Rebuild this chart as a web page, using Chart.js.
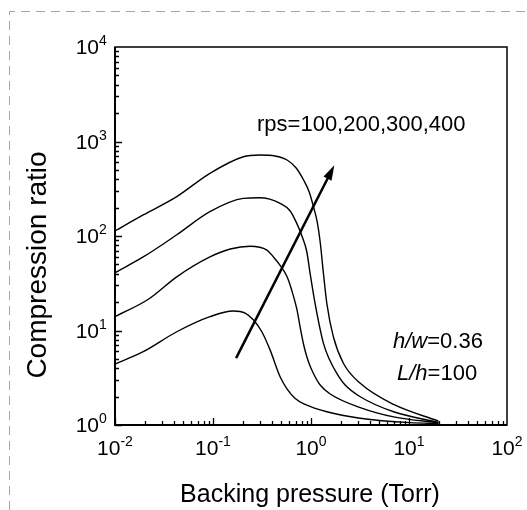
<!DOCTYPE html>
<html>

<head>
    <title>Compression ratio vs backing pressure</title>
    <script src="https://cdn.jsdelivr.net/npm/chart.js"></script>
    <style>
        html, body { margin: 0; padding: 0; background: #fff; }
    </style>
</head>

<body>
    <canvas id="ratioChart" width="527" height="510"></canvas>

    <script>
        // curves, one per rotor speed
        const pressure100 = [0.01, 0.0194, 0.0427, 0.093, 0.161, 0.213, 0.259, 0.315, 0.383, 0.484, 0.571, 0.69, 0.872, 1.45, 3.18, 10.3, 20];
        const ratio100 = [4.42, 5.97, 9.7, 14.0, 16.1, 15.3, 12.9, 9.7, 6.2, 3.24, 2.4, 1.91, 1.65, 1.38, 1.18, 1.06, 1.04];

        const pressure200 = [0.01, 0.0219, 0.0427, 0.093, 0.15, 0.239, 0.355, 0.414, 0.484, 0.57, 0.635, 0.716, 0.785, 0.852, 0.936, 1.053, 1.24, 1.57, 3.18, 6.97, 20];
        const ratio200 = [14.0, 21.4, 37, 60, 72.8, 78, 71, 60, 49, 37, 26.8, 16.9, 10.1, 6.69, 4.76, 3.55, 2.65, 2.13, 1.53, 1.22, 1.055];

        const pressure300 = [0.01, 0.0194, 0.0427, 0.093, 0.204, 0.30, 0.484, 0.613, 0.716, 0.812, 0.907, 0.98, 1.10, 1.34, 1.535, 1.84, 2.23, 3.18, 6.97, 20];
        const ratio300 = [40.9, 60, 103, 181, 250, 254, 222, 184, 136, 98.8, 67.7, 40, 19.4, 7.3, 4.99, 3.5, 2.65, 1.99, 1.38, 1.065];

        const pressure400 = [0.01, 0.0194, 0.0427, 0.093, 0.204, 0.30, 0.43, 0.57, 0.706, 0.84, 0.959, 1.06, 1.157, 1.24, 1.34, 1.45, 1.69, 2.14, 3.18, 6.97, 20];
        const ratio400 = [113, 167, 261, 461, 690, 720, 703, 637, 524, 391, 292, 204, 141, 87, 40, 19.4, 8.6, 4.5, 2.76, 1.65, 1.1];

        // decade tick exponents
        const xExponents = [-2, -1, 0, 1, 2];
        const yExponents = [0, 1, 2, 3, 4];

        // arrow across the curves (data coords: start, tip)
        const arrowFrom = { x: 0.172, y: 5.1 };
        const arrowTo = { x: 1.73, y: 560 };

        const FONT = '"Liberation Sans", Arial, sans-serif';

        function toPoints(xs, ys) {
            return xs.map((x, i) => ({ x: x, y: ys[i] }));
        }

        function curve(xs, ys) {
            return {
                data: toPoints(xs, ys),
                showLine: true,
                borderColor: '#000',
                borderWidth: 1.4,
                pointRadius: 0,
                cubicInterpolationMode: 'monotone',
                fill: false
            };
        }

        // "10" with a raised exponent
        function powWidth(ctx, exp) {
            ctx.font = '21px ' + FONT;
            const a = ctx.measureText('10').width;
            ctx.font = '14px ' + FONT;
            return a + ctx.measureText(String(exp)).width;
        }

        function drawPow(ctx, exp, left, baseline) {
            ctx.font = '21px ' + FONT;
            ctx.textAlign = 'left';
            ctx.textBaseline = 'alphabetic';
            ctx.fillText('10', left, baseline);
            const a = ctx.measureText('10').width;
            ctx.font = '14px ' + FONT;
            ctx.fillText(String(exp), left + a, baseline - 9);
        }

        const pagePlugin = {
            id: 'page',
            beforeDraw(chart) {
                const ctx = chart.ctx;
                ctx.save();
                ctx.fillStyle = '#fff';
                ctx.fillRect(0, 0, chart.width, chart.height);
                // dashed frame around the figure
                ctx.strokeStyle = '#a6a6a6';
                ctx.lineWidth = 1;
                ctx.setLineDash([9, 6]);
                ctx.beginPath();
                ctx.moveTo(9.5, chart.height);
                ctx.lineTo(9.5, 11.5);
                ctx.lineTo(chart.width, 11.5);
                ctx.stroke();
                ctx.restore();
            },
            afterDatasetsDraw(chart) {
                const ctx = chart.ctx;
                const ca = chart.chartArea;
                const xs = chart.scales.x;
                const ys = chart.scales.y;
                ctx.save();
                ctx.strokeStyle = '#000';
                ctx.fillStyle = '#000';

                // frame
                ctx.lineWidth = 1.5;
                ctx.strokeRect(ca.left, ca.top, ca.right - ca.left, ca.bottom - ca.top);
                ctx.lineWidth = 2;
                ctx.beginPath();
                ctx.moveTo(ca.left, ca.top);
                ctx.lineTo(ca.left, ca.bottom);
                ctx.lineTo(ca.right, ca.bottom);
                ctx.stroke();

                // inward ticks, majors and minors
                ctx.lineWidth = 1.3;
                ctx.beginPath();
                for (let e = -2; e < 2; e++) {
                    for (let m = 1; m <= 9; m++) {
                        const px = Math.round(xs.getPixelForValue(m * Math.pow(10, e))) + 0.5;
                        const len = m === 1 ? 7 : 4;
                        ctx.moveTo(px, ca.bottom);
                        ctx.lineTo(px, ca.bottom - len);
                    }
                }
                for (let e = 0; e < 4; e++) {
                    for (let m = 1; m <= 9; m++) {
                        const py = Math.round(ys.getPixelForValue(m * Math.pow(10, e))) + 0.5;
                        const len = m === 1 ? 7 : 4;
                        ctx.moveTo(ca.left, py);
                        ctx.lineTo(ca.left + len, py);
                    }
                }
                ctx.stroke();

                // tick labels
                xExponents.forEach(e => {
                    const px = xs.getPixelForValue(Math.pow(10, e));
                    const w = powWidth(ctx, e);
                    drawPow(ctx, e, px - w / 2, ca.bottom + 30);
                });
                yExponents.forEach(e => {
                    const py = ys.getPixelForValue(Math.pow(10, e));
                    ctx.font = '21px ' + FONT;
                    const a = ctx.measureText('10').width;
                    drawPow(ctx, e, 99 - a, py + 7);
                });

                // axis titles
                ctx.textAlign = 'center';
                ctx.textBaseline = 'alphabetic';
                ctx.font = '25px ' + FONT;
                ctx.fillText('Backing pressure (Torr)', 310, 502);
                ctx.save();
                ctx.translate(46, 265);
                ctx.rotate(-Math.PI / 2);
                ctx.font = '28px ' + FONT;
                ctx.fillText('Compression ratio', 0, 0);
                ctx.restore();

                // arrow
                const x0 = xs.getPixelForValue(arrowFrom.x), y0 = ys.getPixelForValue(arrowFrom.y);
                const x1 = xs.getPixelForValue(arrowTo.x), y1 = ys.getPixelForValue(arrowTo.y);
                const ang = Math.atan2(y1 - y0, x1 - x0);
                const headLen = 15, headHalf = 4.5;
                ctx.lineWidth = 2.5;
                ctx.beginPath();
                ctx.moveTo(x0, y0);
                ctx.lineTo(x1 - Math.cos(ang) * headLen * 0.8, y1 - Math.sin(ang) * headLen * 0.8);
                ctx.stroke();
                ctx.beginPath();
                ctx.moveTo(x1, y1);
                ctx.lineTo(x1 - Math.cos(ang) * headLen - Math.sin(ang) * headHalf,
                           y1 - Math.sin(ang) * headLen + Math.cos(ang) * headHalf);
                ctx.lineTo(x1 - Math.cos(ang) * headLen + Math.sin(ang) * headHalf,
                           y1 - Math.sin(ang) * headLen - Math.cos(ang) * headHalf);
                ctx.closePath();
                ctx.fill();

                // annotations
                ctx.textAlign = 'left';
                ctx.font = '22px ' + FONT;
                ctx.fillText('rps=100,200,300,400', 257, 131);

                function mixed(parts, left, baseline) {
                    let x = left;
                    parts.forEach(p => {
                        ctx.font = (p[1] ? 'italic ' : '') + '22px ' + FONT;
                        ctx.fillText(p[0], x, baseline);
                        x += ctx.measureText(p[0]).width;
                    });
                }
                mixed([['h/w', true], ['=0.36', false]], 393, 348);
                mixed([['L/h', true], ['=100', false]], 397, 380);

                ctx.restore();
            }
        };

        const ctx = document.getElementById('ratioChart').getContext('2d');
        new Chart(ctx, {
            type: 'scatter',
            data: {
                datasets: [
                    curve(pressure100, ratio100),
                    curve(pressure200, ratio200),
                    curve(pressure300, ratio300),
                    curve(pressure400, ratio400)
                ]
            },
            options: {
                responsive: false,
                animation: false,
                layout: { padding: { left: 115, top: 47, right: 20, bottom: 85 } },
                plugins: {
                    legend: { display: false },
                    tooltip: { enabled: false }
                },
                scales: {
                    x: { type: 'logarithmic', min: 0.01, max: 100, display: false },
                    y: { type: 'logarithmic', min: 1, max: 10000, display: false }
                }
            },
            plugins: [pagePlugin]
        });
    </script>
</body>

</html>
